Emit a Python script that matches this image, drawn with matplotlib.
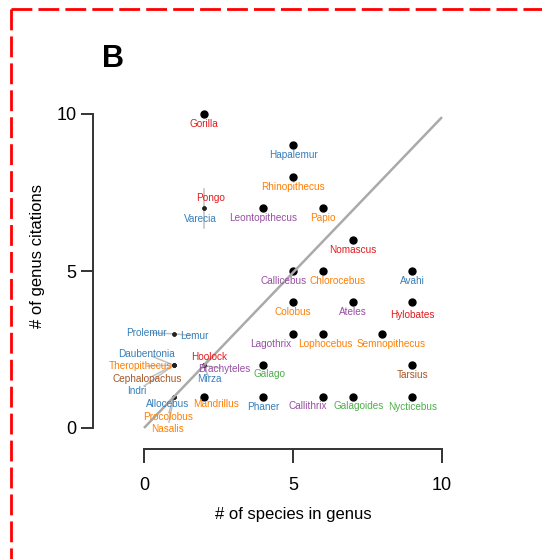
import matplotlib
matplotlib.use("Agg")
import matplotlib.pyplot as plt
from matplotlib.lines import Line2D
import numpy as np

plt.rcParams['font.family'] = ['Liberation Sans', 'DejaVu Sans']

# ---------------- data ----------------
genera = ["Gorilla", "Hapalemur", "Rhinopithecus", "Pongo", "Varecia",
          "Leontopithecus", "Papio", "Nomascus", "Callicebus", "Chlorocebus",
          "Avahi", "Colobus", "Ateles", "Hylobates", "Lagothrix", "Lophocebus",
          "Semnopithecus", "Galago", "Tarsius", "Mandrillus", "Phaner",
          "Callithrix", "Galagoides", "Nycticebus", "Prolemur", "Lemur",
          "Daubentonia", "Theropithecus", "Cephalopachus", "Indri",
          "Allocebus", "Procolobus", "Nasalis", "Hoolock", "Brachyteles", "Mirza"]
species = [2, 5, 5, 2, 2, 4, 6, 7, 5, 6, 9, 5, 7, 9, 5, 6, 8, 4, 9, 2, 4, 6, 7, 9,
           1, 1, 1, 1, 1, 1, 1, 1, 1, 2, 2, 2]
citations = [10, 9, 8, 7, 7, 7, 7, 6, 5, 5, 5, 4, 4, 4, 3, 3, 3, 2, 2, 1, 1, 1, 1, 1,
             3, 3, 2, 2, 2, 2, 1, 1, 1, 2, 2, 2]
groups = ["ape", "lemur", "oldworld", "ape", "lemur", "newworld", "oldworld", "ape",
          "newworld", "oldworld", "lemur", "oldworld", "newworld", "ape", "newworld",
          "oldworld", "oldworld", "loris", "tarsier", "oldworld", "lemur", "newworld",
          "loris", "loris", "lemur", "lemur", "lemur", "oldworld", "tarsier", "lemur",
          "lemur", "oldworld", "oldworld", "ape", "newworld", "lemur"]
# genera sharing a position are drawn as small points with repelled labels
shared = ["Pongo", "Varecia", "Prolemur", "Lemur", "Daubentonia", "Theropithecus",
          "Cephalopachus", "Indri", "Allocebus", "Procolobus", "Nasalis",
          "Hoolock", "Brachyteles", "Mirza"]

fit_slope = 0.99
fit_intercept = 0.0

x_ticks = [0, 5, 10]
y_ticks = [0, 5, 10]
x_label = "# of species in genus"
y_label = "# of genus citations"
panel = "B"

# ---------------- styles ----------------
palette = {"ape": "#E41A1C", "lemur": "#377EB8", "loris": "#4DAF4A",
           "newworld": "#984EA3", "oldworld": "#FF7F00", "tarsier": "#A65628"}

# label offsets in pixels (dx right, dy down) relative to the point
default_off = (0, 10)
label_off = {
    "Callicebus": (-9, 10), "Chlorocebus": (15, 10), "Hylobates": (0, 13),
    "Lagothrix": (-22, 10), "Lophocebus": (3, 10), "Semnopithecus": (9, 10),
    "Galago": (6, 9), "Callithrix": (-15, 9), "Galagoides": (6, 9),
    "Mandrillus": (12, 7),
    "Pongo": (7, -10), "Varecia": (-3, 11),
    "Prolemur": (-27, -1), "Lemur": (21, 2),
    "Daubentonia": (-27, -11), "Theropithecus": (-33, 1),
    "Cephalopachus": (-27, 14), "Indri": (-37, 26),
    "Allocebus": (-6, 7), "Procolobus": (-6, 20), "Nasalis": (-6, 32),
    "Hoolock": (6, -8), "Brachyteles": (21, 4), "Mirza": (6, 14),
}
# leader segment end offsets (pixels) where they differ from label direction
segment_off = {"Pongo": (0, -19), "Varecia": (0, 20)}

W, H = 542, 559
fig = plt.figure(figsize=(W / 100, H / 100), dpi=100)
x0p, x1p, y0p, y1p = 144, 442, 428, 114
ax = fig.add_axes([x0p / W, 1 - y0p / H, (x1p - x0p) / W, (y0p - y1p) / H])
ax.set_xlim(0, 10)
ax.set_ylim(0, 10)
ax.patch.set_visible(False)

axis_col = "#333333"
for s in ["top", "right"]:
    ax.spines[s].set_visible(False)
ax.spines["left"].set_position(("outward", 51 * 0.72))
ax.spines["bottom"].set_position(("outward", 21 * 0.72))
ax.spines["left"].set_bounds(0, 10)
ax.spines["bottom"].set_bounds(0, 10)
for s in ["left", "bottom"]:
    ax.spines[s].set_linewidth(1.4)
    ax.spines[s].set_color(axis_col)
ax.set_xticks(x_ticks)
ax.set_yticks(y_ticks)
ax.tick_params(axis="x", direction="out", length=10, width=1.4, color=axis_col,
               labelsize=13, pad=10)
ax.tick_params(axis="y", direction="out", length=9, width=1.4, color=axis_col,
               labelsize=13, pad=3)

# regression line
xs = np.array([0, 10])
ax.plot(xs, fit_intercept + fit_slope * xs, color="#AAAAAA", lw=1.8, zorder=3,
        clip_on=False, solid_capstyle="butt")

# points
for g, xv, yv in zip(genera, species, citations):
    if g in shared:
        ax.plot(xv, yv, "o", ms=2.2, color="#222222", zorder=2, clip_on=False)
    else:
        ax.plot(xv, yv, "o", ms=5, color="black", zorder=2, clip_on=False)

# labels
for g, xv, yv, grp in zip(genera, species, citations, groups):
    dx, dy = label_off.get(g, default_off)
    ax.annotate(g, (xv, yv), xytext=(dx * 0.72, -dy * 0.72),
                textcoords="offset points", ha="center", va="center",
                fontsize=7.2, color=palette[grp], zorder=4, annotation_clip=False)
    if g in shared:
        # leader segment from point towards the label
        if g in segment_off:
            sx, sy = segment_off[g]
        else:
            sx, sy = dx * 0.8, dy * 0.8
        tx = xv + sx / 29.8
        ty = yv - sy / 31.4
        ax.plot([xv, tx], [yv, ty], color="#C0C0C0", lw=1.1, zorder=1, clip_on=False)

# axis titles and panel letter
fig.text(293 / W, 1 - 515 / H, x_label, ha="center", va="center", fontsize=12)
fig.text(38 / W, 1 - 256 / H, y_label, ha="center", va="center", fontsize=12,
         rotation=90)
fig.text(113 / W, 1 - 59 / H, panel, ha="center", va="center", fontsize=22,
         fontweight="bold")

# red dashed border
border = dict(color="#FF0000", lw=2, dashes=(7.5, 2.2), solid_capstyle="butt",
              dash_capstyle="butt", transform=fig.transFigure)
fig.add_artist(Line2D([10.5 / W, 1.05], [1 - 9.3 / H, 1 - 9.3 / H], **border))
fig.add_artist(Line2D([10.5 / W, 10.5 / W], [1 - 9.3 / H, -0.05], **border))

fig.savefig("out.png", dpi=100)
